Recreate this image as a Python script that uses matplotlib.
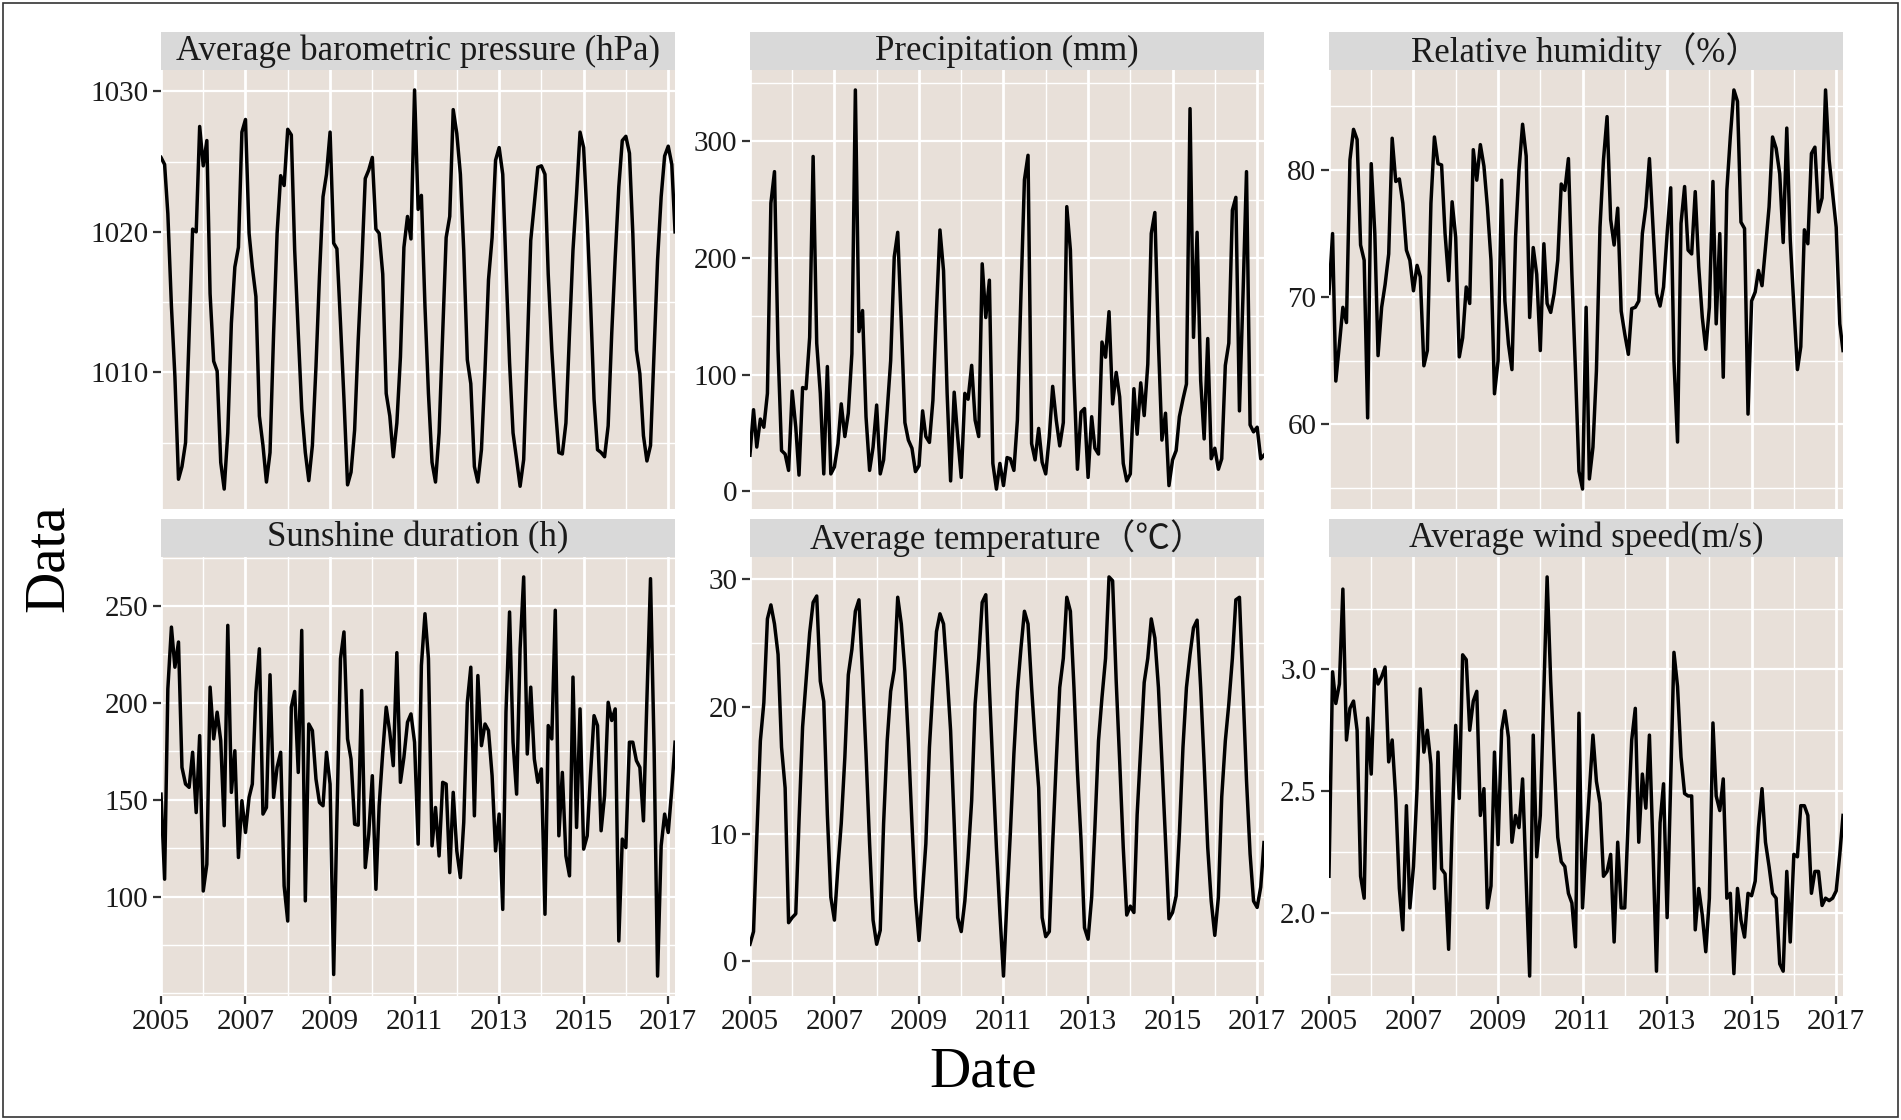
import datetime
import numpy as np
import matplotlib
matplotlib.use("Agg")
import matplotlib.pyplot as plt
import matplotlib.dates as mdates
from matplotlib.patches import Rectangle

plt.rcParams["font.family"] = ["Liberation Serif", "Noto Sans CJK SC"]

# monthly values, Jan 2005 .. Mar 2017
months = np.arange("2005-01", "2017-04", dtype="datetime64[M]").astype("datetime64[D]")

pressure = [
    1025.3, 1024.8, 1021.3, 1014.7, 1009.7, 1002.4, 1003.3, 1005.0, 1012.8, 1020.2, 1020.0, 1027.5,
    1024.7, 1026.5, 1015.6, 1010.8, 1010.1, 1003.6, 1001.7, 1005.7, 1013.5, 1017.5, 1018.9, 1027.1,
    1028.0, 1019.9, 1017.5, 1015.4, 1006.9, 1004.8, 1002.2, 1004.3, 1012.8, 1019.9, 1024.0, 1023.3,
    1027.3, 1026.9, 1018.7, 1012.8, 1007.4, 1004.3, 1002.3, 1004.8, 1010.4, 1016.8, 1022.5, 1024.1,
    1027.1, 1019.2, 1018.8, 1013.5, 1008.1, 1002.0, 1002.9, 1005.9, 1012.3, 1017.5, 1023.8, 1024.4,
    1025.3, 1020.2, 1019.9, 1017.0, 1008.5, 1006.9, 1004.0, 1006.4, 1011.1, 1018.9, 1021.1, 1019.5,
    1030.1, 1021.6, 1022.6, 1014.7, 1008.5, 1003.6, 1002.2, 1005.7, 1012.8, 1019.6, 1021.1, 1028.7,
    1027.0, 1024.1, 1018.7, 1010.9, 1009.2, 1003.3, 1002.2, 1004.5, 1010.2, 1016.6, 1019.6, 1025.1,
    1026.0, 1024.1, 1017.5, 1010.7, 1005.7, 1003.8, 1001.9, 1003.8, 1011.6, 1019.4, 1022.0, 1024.6,
    1024.7, 1024.1, 1017.0, 1011.6, 1007.6, 1004.3, 1004.2, 1006.4, 1012.8, 1018.7, 1022.7, 1027.1,
    1026.0, 1020.8, 1015.2, 1008.1, 1004.5, 1004.3, 1004.0, 1006.2, 1012.8, 1018.2, 1023.2, 1026.5,
    1026.8, 1025.6, 1019.9, 1011.6, 1009.9, 1005.5, 1003.7, 1004.8, 1011.6, 1018.0, 1022.5, 1025.4,
    1026.1, 1024.8, 1020.0]

precipitation = [
    31, 70, 38, 62, 55, 84, 247, 274, 121, 35, 32, 18,
    86, 55, 14, 89, 88, 132, 287, 127, 84, 15, 107, 15,
    21, 41, 75, 47, 67, 118, 344, 137, 155, 64, 18, 38,
    74, 15, 27, 69, 112, 201, 222, 144, 59, 44, 37, 17,
    22, 69, 47, 42, 78, 155, 224, 189, 84, 9, 85, 47,
    12, 84, 79, 108, 61, 47, 195, 149, 181, 24, 2, 24,
    5, 29, 28, 18, 61, 169, 267, 288, 41, 27, 54, 25,
    15, 47, 90, 61, 39, 59, 244, 207, 98, 19, 68, 71,
    12, 64, 37, 32, 128, 115, 154, 75, 102, 81, 24, 9,
    15, 88, 49, 93, 65, 109, 221, 239, 127, 44, 67, 5,
    27, 35, 64, 79, 92, 328, 132, 222, 95, 45, 131, 28,
    37, 19, 28, 108, 127, 241, 252, 69, 169, 274, 57, 51,
    55, 28, 31]

humidity = [
    70.3, 75.0, 63.4, 66.3, 69.2, 68.0, 80.8, 83.2, 82.4, 74.1, 72.9, 60.5,
    80.5, 75.0, 65.4, 69.2, 71.0, 73.4, 82.5, 79.1, 79.3, 77.4, 73.7, 72.9,
    70.5, 72.5, 71.6, 64.6, 65.8, 77.4, 82.6, 80.5, 80.4, 75.0, 71.3, 77.5,
    74.7, 65.3, 66.8, 70.8, 69.5, 81.6, 79.2, 82.0, 80.3, 77.1, 72.9, 62.4,
    65.0, 79.2, 69.7, 66.3, 64.3, 74.7, 80.0, 83.6, 81.1, 68.4, 73.9, 71.8,
    65.8, 74.2, 69.5, 68.8, 70.3, 72.9, 78.9, 78.4, 80.9, 71.8, 64.2, 56.3,
    54.9, 69.2, 55.7, 58.2, 64.2, 75.5, 80.8, 84.2, 76.1, 74.1, 77.0, 68.9,
    67.1, 65.5, 69.1, 69.2, 69.7, 75.0, 77.1, 80.9, 75.5, 70.3, 69.3, 70.8,
    75.0, 78.6, 65.0, 58.6, 75.8, 78.7, 73.7, 73.4, 78.3, 72.4, 68.4, 65.9,
    69.2, 79.1, 67.9, 75.0, 63.7, 78.4, 82.6, 86.3, 85.4, 75.9, 75.4, 60.8,
    69.7, 70.4, 72.1, 70.9, 73.9, 77.1, 82.6, 81.7, 79.7, 74.3, 83.3, 74.5,
    69.3, 64.3, 66.1, 75.3, 74.2, 81.3, 81.8, 76.7, 77.8, 86.3, 80.8, 78.2,
    75.5, 67.9, 65.8]

sunshine = [
    152.9, 109.0, 207.2, 239.1, 218.4, 231.4, 166.7, 158.1, 156.4, 174.5, 143.4, 183.1,
    102.9, 116.7, 208.1, 181.4, 195.2, 180.5, 136.6, 240.0, 153.8, 175.3, 120.2, 149.5,
    133.1, 151.2, 158.1, 205.5, 227.9, 142.6, 146.0, 214.5, 151.2, 166.7, 174.5, 105.5,
    87.4, 197.8, 205.9, 164.1, 237.4, 97.8, 189.1, 185.7, 160.7, 148.6, 146.9, 174.5,
    158.1, 59.8, 140.9, 222.8, 236.6, 181.4, 171.0, 137.4, 136.9, 206.4, 115.0, 132.2,
    162.4, 103.8, 146.9, 174.5, 197.8, 184.8, 167.6, 225.9, 159.0, 171.9, 190.0, 194.3,
    179.7, 127.1, 219.3, 246.0, 222.8, 126.2, 146.0, 121.0, 159.0, 158.1, 112.4, 153.8,
    123.6, 109.8, 138.3, 200.3, 218.4, 141.7, 214.1, 177.9, 189.1, 185.7, 162.4, 123.6,
    142.6, 93.4, 195.2, 246.9, 179.7, 152.9, 227.9, 265.0, 173.6, 208.1, 171.0, 159.0,
    165.9, 90.9, 188.3, 181.4, 247.8, 131.4, 164.1, 121.0, 110.7, 213.3, 135.7, 196.9,
    124.5, 131.4, 162.4, 193.4, 188.3, 134.0, 152.1, 200.3, 190.9, 196.9, 77.1, 129.7,
    125.3, 179.7, 179.7, 170.2, 166.7, 139.1, 202.1, 264.1, 176.2, 59.0, 126.2, 142.6,
    133.1, 155.5, 179.7]

temperature = [
    1.3, 2.3, 9.7, 17.3, 20.3, 26.9, 28.0, 26.5, 24.1, 16.8, 13.6, 3.0,
    3.4, 3.7, 11.0, 18.4, 22.0, 25.8, 28.2, 28.7, 22.0, 20.4, 11.5, 5.0,
    3.2, 7.5, 10.8, 16.0, 22.5, 24.5, 27.5, 28.4, 22.5, 16.3, 9.2, 3.2,
    1.3, 2.4, 10.8, 17.3, 21.2, 22.9, 28.6, 26.5, 22.8, 17.3, 10.8, 5.0,
    1.6, 5.5, 9.2, 16.8, 21.5, 25.9, 27.3, 26.5, 22.5, 18.1, 10.8, 3.4,
    2.3, 4.7, 8.1, 12.6, 20.2, 23.8, 28.2, 28.8, 21.5, 15.2, 8.9, 3.7,
    -1.2, 5.0, 10.0, 16.3, 21.2, 24.6, 27.5, 26.5, 21.5, 17.3, 13.6, 3.4,
    1.9, 2.3, 9.2, 15.7, 21.5, 23.8, 28.6, 27.5, 21.5, 14.9, 9.5, 2.6,
    1.7, 5.0, 10.5, 17.3, 20.7, 23.8, 30.2, 29.9, 22.0, 15.7, 8.9, 3.6,
    4.3, 3.8, 11.5, 16.8, 21.9, 23.8, 26.9, 25.4, 21.5, 15.7, 9.5, 3.3,
    3.8, 5.1, 10.0, 16.8, 21.5, 24.1, 26.2, 26.8, 21.5, 15.5, 8.9, 4.7,
    2.0, 5.0, 12.9, 17.3, 20.2, 23.8, 28.4, 28.6, 21.2, 14.2, 8.4, 4.7,
    4.2, 5.8, 9.3]

wind = [
    2.15, 2.99, 2.86, 2.94, 3.33, 2.71, 2.84, 2.87, 2.75, 2.15, 2.06, 2.80,
    2.57, 3.00, 2.94, 2.97, 3.01, 2.62, 2.71, 2.47, 2.10, 1.93, 2.44, 2.02,
    2.19, 2.51, 2.92, 2.66, 2.75, 2.61, 2.10, 2.66, 2.18, 2.16, 1.85, 2.36,
    2.77, 2.47, 3.06, 3.04, 2.75, 2.87, 2.91, 2.40, 2.51, 2.02, 2.11, 2.66,
    2.28, 2.75, 2.83, 2.72, 2.29, 2.40, 2.35, 2.55, 2.13, 1.74, 2.73, 2.23,
    2.40, 2.91, 3.38, 2.95, 2.62, 2.31, 2.21, 2.19, 2.08, 2.04, 1.86, 2.82,
    2.02, 2.29, 2.50, 2.73, 2.54, 2.45, 2.15, 2.17, 2.24, 1.88, 2.29, 2.02,
    2.02, 2.40, 2.71, 2.84, 2.29, 2.57, 2.43, 2.73, 2.26, 1.76, 2.37, 2.53,
    1.98, 2.54, 3.07, 2.93, 2.64, 2.49, 2.48, 2.48, 1.93, 2.10, 1.99, 1.84,
    2.06, 2.78, 2.48, 2.42, 2.55, 2.06, 2.08, 1.75, 2.10, 1.97, 1.90, 2.08,
    2.07, 2.13, 2.35, 2.51, 2.29, 2.19, 2.08, 2.06, 1.79, 1.76, 2.17, 1.88,
    2.24, 2.23, 2.44, 2.44, 2.40, 2.08, 2.17, 2.17, 2.03, 2.06, 2.05, 2.06,
    2.09, 2.24, 2.40]

titles = ["Average barometric pressure (hPa)", "Precipitation (mm)", "Relative humidity（%）",
          "Sunshine duration (h)", "Average temperature（℃）", "Average wind speed(m/s)"]
series = [pressure, precipitation, humidity, sunshine, temperature, wind]

y_major = [[1010, 1020, 1030], [0, 100, 200, 300], [60, 70, 80],
           [100, 150, 200, 250], [0, 10, 20, 30], [2.0, 2.5, 3.0]]
y_minor = [[1005, 1015, 1025], [50, 150, 250, 350], [55, 65, 75, 85],
           [50, 75, 125, 175, 225, 275], [5, 15, 25], [1.75, 2.25, 2.75, 3.25]]
y_labels = [["1010", "1020", "1030"], ["0", "100", "200", "300"], ["60", "70", "80"],
            ["100", "150", "200", "250"], ["0", "10", "20", "30"], ["2.0", "2.5", "3.0"]]

year_major = list(range(2005, 2018, 2))
year_minor = list(range(2006, 2017, 2))

panel_bg = "#E8E0D9"
strip_bg = "#D9D9D9"

fig = plt.figure(figsize=(19.01, 11.2), dpi=100)

lefts = [0.0847, 0.3945, 0.6991]
bottoms = [0.5455, 0.1107]
w, h = 0.2704, 0.392
strip_h = 0.0866

for i in range(6):
    row, col = divmod(i, 3)
    ax = fig.add_axes([lefts[col], bottoms[row], w, h])
    ax.set_facecolor(panel_bg)
    vals = np.array(series[i], dtype=float)
    ax.plot(months, vals, color="black", lw=2.5, zorder=3)

    ax.set_xlim(months[0], months[-1])
    pad = 0.05 * (vals.max() - vals.min())
    ax.set_ylim(vals.min() - pad, vals.max() + pad)

    ax.set_yticks(y_major[i])
    ax.set_yticklabels(y_labels[i])
    ax.set_yticks(y_minor[i], minor=True)
    ax.set_xticks([mdates.date2num(datetime.date(y, 1, 1)) for y in year_major])
    ax.set_xticks([mdates.date2num(datetime.date(y, 1, 1)) for y in year_minor], minor=True)
    ax.set_xticklabels([str(y) for y in year_major])

    ax.set_axisbelow(True)
    ax.grid(which="major", axis="x", color="white", lw=2.0)
    ax.grid(which="major", axis="y", color="white", lw=1.6)
    ax.grid(which="minor", color="white", lw=1.0)
    for s in ax.spines.values():
        s.set_visible(False)

    ax.tick_params(which="minor", length=0)
    ax.tick_params(which="major", length=6, width=1.6, color="#333333",
                   labelsize=21, labelcolor="#1a1a1a", pad=3)
    if row == 0:
        ax.tick_params(axis="x", which="major", length=0, labelbottom=False)

    # facet strip
    ax.add_patch(Rectangle((0, 1), 1, strip_h, transform=ax.transAxes,
                           facecolor=strip_bg, edgecolor="none", clip_on=False))
    ax.text(0.5, 1 + strip_h / 2, titles[i], transform=ax.transAxes,
            ha="center", va="center", fontsize=25, color="#1a1a1a")

fig.text(0.0255, 0.502, "Data", rotation=90, ha="center", va="center", fontsize=41)
fig.text(0.517, 0.042, "Date", ha="center", va="center", fontsize=41)

fig.patches.append(Rectangle((0.0015, 0.0025), 0.997, 0.995, transform=fig.transFigure,
                             fill=False, edgecolor="#333333", lw=1.2))

fig.savefig("out.png", dpi=100)
